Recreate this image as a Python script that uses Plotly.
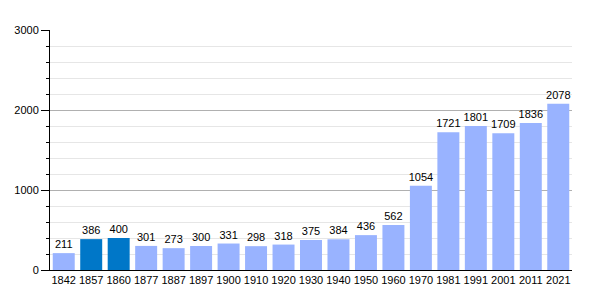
import plotly.graph_objects as go

years = ["1842","1857","1860","1877","1887","1897","1900","1910","1920","1930",
         "1940","1950","1960","1970","1981","1991","2001","2011","2021"]
pop = [211,386,400,301,273,300,331,298,318,375,384,436,562,1054,1721,1801,1709,1836,2078]
highlight = ["1857","1860"]

colors = ["#0077c8" if y in highlight else "#99b3ff" for y in years]

fig = go.Figure(go.Bar(
    x=years, y=pop, marker_color=colors, marker_line_width=0,
    text=[str(v) for v in pop], textposition="outside", cliponaxis=False,
    textfont=dict(size=11, color="#000", family="Liberation Sans, Arial"),
))
fig.update_layout(
    width=600, height=300, margin=dict(l=50, r=28, t=30, b=30),
    plot_bgcolor="white", paper_bgcolor="white", bargap=0.2, showlegend=False,
    font=dict(family="Liberation Sans, Arial", size=11, color="#000"),
    uniformtext=dict(minsize=11, mode="show"),
)
fig.update_yaxes(range=[0, 3000], tickvals=[0,1000,2000,3000], showline=True, linecolor="black",
                 linewidth=1, ticks="outside", ticklen=8, tickcolor="black",
                 gridcolor="#b0b0b0", gridwidth=1, zeroline=False,
                 minor=dict(dtick=200, ticks="outside", ticklen=3, tickcolor="black",
                            showgrid=True, gridcolor="#e6e6e6"))
fig.update_xaxes(showline=True, linecolor="black", linewidth=1, ticks="", tickangle=0)
fig.write_html("out.html")
